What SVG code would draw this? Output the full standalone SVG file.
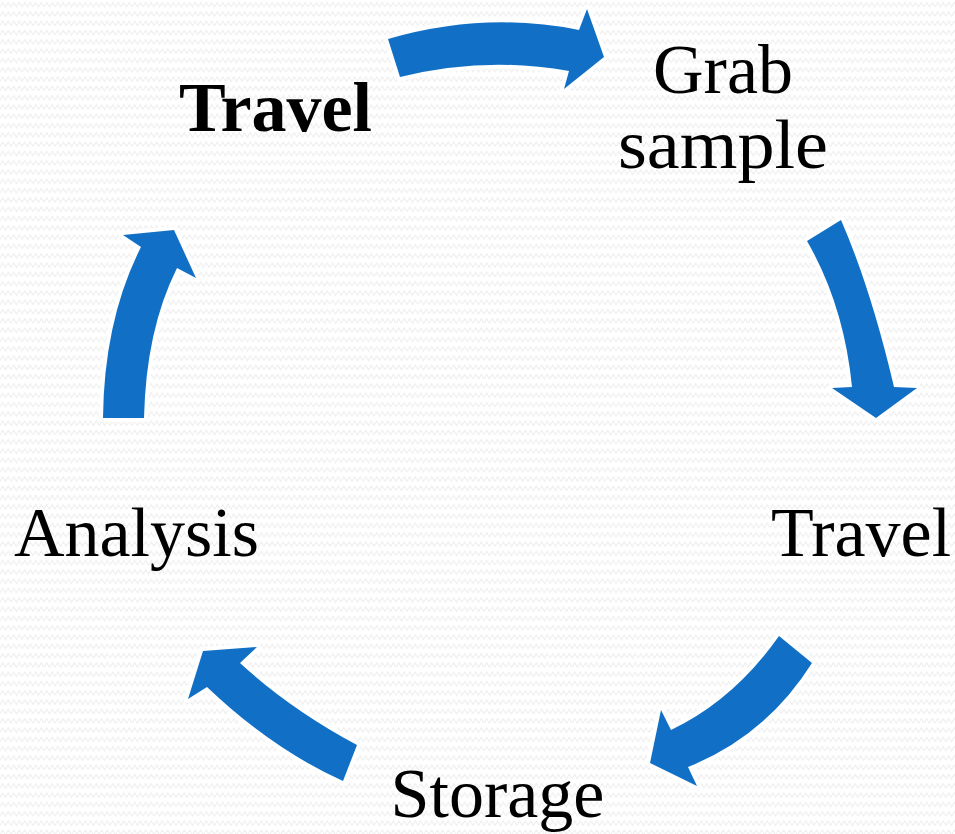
<svg xmlns="http://www.w3.org/2000/svg" width="955" height="834" viewBox="0 0 955 834">
  <defs>
    <pattern id="zig" x="0" y="0" width="11" height="9.3" patternUnits="userSpaceOnUse">
      <path d="M0,7 L2.75,2.5 L5.5,7 L8.25,2.5 L11,7" fill="none" stroke="#efefef" stroke-width="1.2"/>
    </pattern>
    <style>
      .arrow { fill: #1170c6; stroke: #ffffff; stroke-width: 8; stroke-linejoin: round; paint-order: stroke; }
      .lbl { font-family: "Liberation Serif", "Times New Roman", serif; font-size: 70px; fill: #000000; text-anchor: middle; }
      .bold { font-weight: bold; }
    </style>
  </defs>
  <rect x="0" y="0" width="955" height="834" fill="#ffffff"/>
  <rect x="0" y="0" width="955" height="834" fill="url(#zig)"/>

  <g id="connectors">
    <path class="arrow" d="M388,39 Q485,11 579,30 L587,9 L604,57 L564,89 L569,71 Q485,56 400,77 Z"/>
    <path class="arrow" d="M807,241 Q844,305 852,387 L832,388 L876,418 L917,388 L894,387 Q871,289 841,220 Z"/>
    <path class="arrow" d="M779,636 Q734,700 671,730 L661,710 L650,763 L697,786 L688,767 Q766,736 812,663 Z"/>
    <path class="arrow" d="M357,745 Q290,709 240,663 L257,647 L203,651 L188,699 L207,687 Q272,749 343,781 Z"/>
    <path class="arrow" d="M103,418 Q104,320 141,247 L123,235 L174,230 L196,278 L177,268 Q146,330 144,418 Z"/>
  </g>

  <g id="node-travel-start">
    <text class="lbl bold" x="275.5" y="131">Travel</text>
  </g>
  <g id="node-grab-sample">
    <text class="lbl" x="723" y="93">Grab</text>
    <text class="lbl" x="723" y="168" textLength="210" lengthAdjust="spacingAndGlyphs">sample</text>
  </g>
  <g id="node-travel">
    <text class="lbl" x="861" y="556">Travel</text>
  </g>
  <g id="node-storage">
    <text class="lbl" x="497.5" y="817">Storage</text>
  </g>
  <g id="node-analysis">
    <text class="lbl" x="136.5" y="556">Analysis</text>
  </g>
</svg>
